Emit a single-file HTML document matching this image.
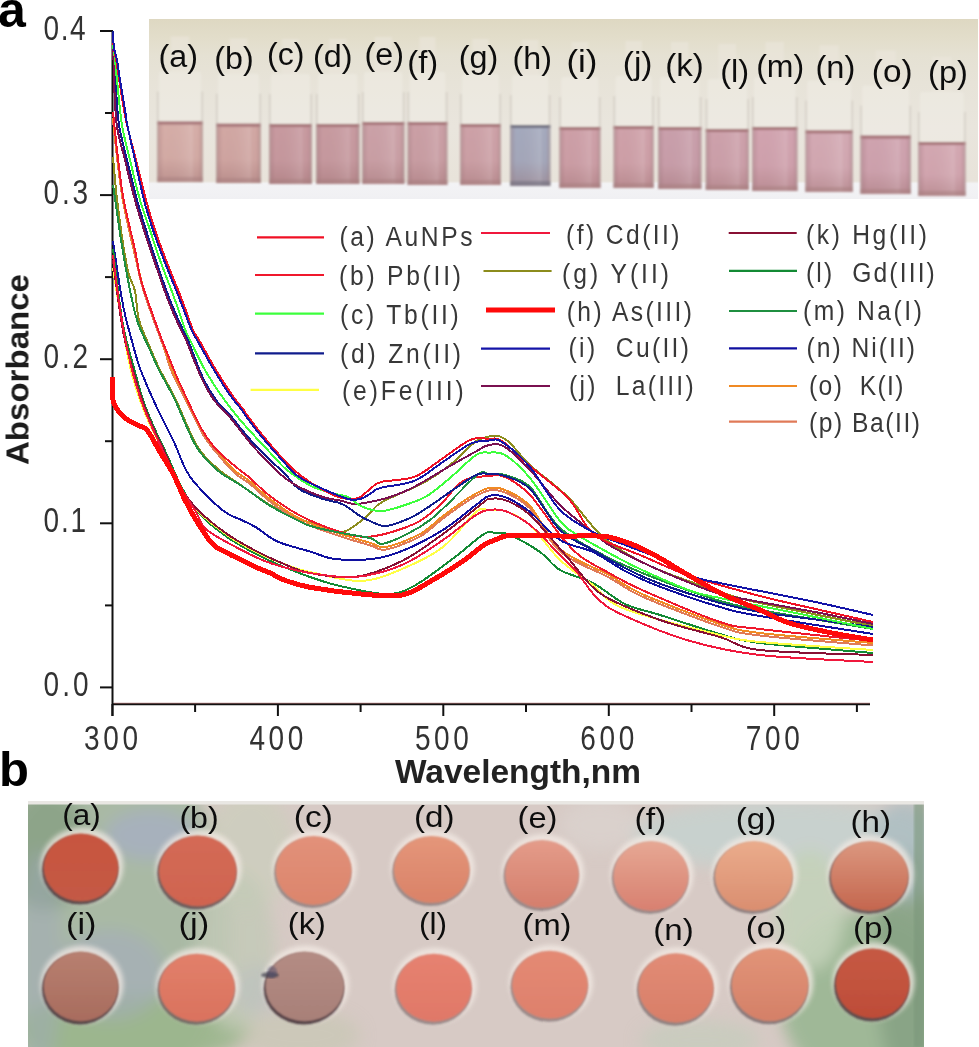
<!DOCTYPE html>
<html><head><meta charset="utf-8"><title>Figure</title>
<style>html,body{margin:0;padding:0;background:#fff;}body{width:979px;height:1047px;overflow:hidden;font-family:"Liberation Sans",sans-serif;}svg{display:block;}</style>
</head><body>
<svg width="979" height="1047" viewBox="0 0 979 1047">
<defs>
<filter id="blur1" x="-5%" y="-5%" width="110%" height="110%"><feGaussianBlur stdDeviation="1.2"/></filter>
<filter id="blur2" x="-20%" y="-20%" width="140%" height="140%"><feGaussianBlur stdDeviation="2.5"/></filter>
<filter id="blur6" x="-20%" y="-20%" width="140%" height="140%"><feGaussianBlur stdDeviation="8"/></filter>
<filter id="tb" x="-5%" y="-5%" width="110%" height="110%"><feGaussianBlur stdDeviation="0.45"/></filter>
<clipPath id="cpIn"><rect x="149" y="19" width="829" height="180"/></clipPath>
<clipPath id="cpB"><rect x="28" y="801" width="896" height="246"/></clipPath>
<linearGradient id="inBg" x1="0" y1="0" x2="0" y2="1">
 <stop offset="0" stop-color="#ded8c2"/><stop offset="0.1" stop-color="#e2ddca"/><stop offset="0.2" stop-color="#e5e1d3"/>
 <stop offset="0.35" stop-color="#e7e3d8"/><stop offset="0.6" stop-color="#e9e5dd"/>
 <stop offset="0.9" stop-color="#e8e3da"/><stop offset="0.915" stop-color="#f3f3f5"/><stop offset="1" stop-color="#f0f0f3"/>
</linearGradient>
<linearGradient id="liqShade" x1="0" y1="0" x2="0" y2="1">
 <stop offset="0" stop-color="#906060" stop-opacity="0"/><stop offset="0.6" stop-color="#906060" stop-opacity="0.05"/><stop offset="1" stop-color="#906060" stop-opacity="0.35"/>
</linearGradient>
<linearGradient id="liqSide" x1="0" y1="0" x2="1" y2="0">
 <stop offset="0" stop-color="#8a6068" stop-opacity="0.3"/><stop offset="0.15" stop-color="#8a6068" stop-opacity="0"/><stop offset="0.75" stop-color="#fff" stop-opacity="0.12"/><stop offset="0.88" stop-color="#8a6068" stop-opacity="0"/><stop offset="1" stop-color="#8a6068" stop-opacity="0.3"/>
</linearGradient>
<linearGradient id="liq" x1="0" y1="0" x2="0" y2="1">
 <stop offset="0" stop-color="#c9a1a8"/><stop offset="0.6" stop-color="#d2abb2"/><stop offset="1" stop-color="#bd959c"/>
</linearGradient>
<linearGradient id="liqH" x1="0" y1="0" x2="0" y2="1">
 <stop offset="0" stop-color="#a3a7b8"/><stop offset="0.6" stop-color="#aeb0c0"/><stop offset="1" stop-color="#8a8a9a"/>
</linearGradient>
</defs>
<rect width="979" height="1047" fill="#fff"/>
<g clip-path="url(#cpIn)">
<rect x="149" y="19" width="829" height="180" fill="url(#inBg)"/>
<g filter="url(#blur1)">
<rect x="159.0" y="71.5" width="42.0" height="50.0" rx="3" fill="#f2efe8" opacity="0.4"/>
<rect x="170.8" y="36.5" width="18.4" height="35.0" fill="#ebe6dc" opacity="0.6"/>
<rect x="157.0" y="121.5" width="46.0" height="60.5" fill="#d6aea8"/>
<rect x="157.0" y="121.5" width="46.0" height="60.5" fill="url(#liqShade)"/>
<rect x="157.0" y="121.5" width="46.0" height="60.5" fill="url(#liqSide)"/>
<rect x="157.0" y="121.5" width="46.0" height="3" fill="#a67478"/>
<rect x="157.0" y="91.5" width="1.6" height="90.5" fill="#bdb6ac" opacity="0.45"/>
<rect x="201.4" y="91.5" width="1.6" height="90.5" fill="#bdb6ac" opacity="0.45"/>
<rect x="157.0" y="177.0" width="46.0" height="5" fill="#a88080" opacity="0.5"/>
<rect x="218.0" y="73.7" width="41.0" height="50.0" rx="3" fill="#f2efe8" opacity="0.4"/>
<rect x="229.5" y="38.7" width="18.0" height="35.0" fill="#ebe6dc" opacity="0.6"/>
<rect x="216.0" y="123.7" width="45.0" height="59.3" fill="#d2a8a4"/>
<rect x="216.0" y="123.7" width="45.0" height="59.3" fill="url(#liqShade)"/>
<rect x="216.0" y="123.7" width="45.0" height="59.3" fill="url(#liqSide)"/>
<rect x="216.0" y="123.7" width="45.0" height="3" fill="#a67478"/>
<rect x="216.0" y="93.7" width="1.6" height="89.3" fill="#bdb6ac" opacity="0.45"/>
<rect x="259.4" y="93.7" width="1.6" height="89.3" fill="#bdb6ac" opacity="0.45"/>
<rect x="216.0" y="178.0" width="45.0" height="5" fill="#a88080" opacity="0.5"/>
<rect x="271.0" y="74.0" width="39.0" height="50.0" rx="3" fill="#f2efe8" opacity="0.4"/>
<rect x="281.9" y="39.0" width="17.2" height="35.0" fill="#ebe6dc" opacity="0.6"/>
<rect x="269.0" y="124.0" width="43.0" height="60.0" fill="#c89aa0"/>
<rect x="269.0" y="124.0" width="43.0" height="60.0" fill="url(#liqShade)"/>
<rect x="269.0" y="124.0" width="43.0" height="60.0" fill="url(#liqSide)"/>
<rect x="269.0" y="124.0" width="43.0" height="3" fill="#a67478"/>
<rect x="269.0" y="94.0" width="1.6" height="90.0" fill="#bdb6ac" opacity="0.45"/>
<rect x="310.4" y="94.0" width="1.6" height="90.0" fill="#bdb6ac" opacity="0.45"/>
<rect x="269.0" y="179.0" width="43.0" height="5" fill="#a88080" opacity="0.5"/>
<rect x="318.0" y="74.0" width="39.5" height="50.0" rx="3" fill="#f2efe8" opacity="0.4"/>
<rect x="329.1" y="39.0" width="17.4" height="35.0" fill="#ebe6dc" opacity="0.6"/>
<rect x="316.0" y="124.0" width="43.5" height="60.0" fill="#c89ba1"/>
<rect x="316.0" y="124.0" width="43.5" height="60.0" fill="url(#liqShade)"/>
<rect x="316.0" y="124.0" width="43.5" height="60.0" fill="url(#liqSide)"/>
<rect x="316.0" y="124.0" width="43.5" height="3" fill="#a67478"/>
<rect x="316.0" y="94.0" width="1.6" height="90.0" fill="#bdb6ac" opacity="0.45"/>
<rect x="357.9" y="94.0" width="1.6" height="90.0" fill="#bdb6ac" opacity="0.45"/>
<rect x="316.0" y="179.0" width="43.5" height="5" fill="#a88080" opacity="0.5"/>
<rect x="364.0" y="72.0" width="38.5" height="50.0" rx="3" fill="#f2efe8" opacity="0.4"/>
<rect x="374.8" y="37.0" width="17.0" height="35.0" fill="#ebe6dc" opacity="0.6"/>
<rect x="362.0" y="122.0" width="42.5" height="62.0" fill="#cca2a8"/>
<rect x="362.0" y="122.0" width="42.5" height="62.0" fill="url(#liqShade)"/>
<rect x="362.0" y="122.0" width="42.5" height="62.0" fill="url(#liqSide)"/>
<rect x="362.0" y="122.0" width="42.5" height="3" fill="#a67478"/>
<rect x="362.0" y="92.0" width="1.6" height="92.0" fill="#bdb6ac" opacity="0.45"/>
<rect x="402.9" y="92.0" width="1.6" height="92.0" fill="#bdb6ac" opacity="0.45"/>
<rect x="362.0" y="179.0" width="42.5" height="5" fill="#a88080" opacity="0.5"/>
<rect x="409.5" y="72.0" width="35.9" height="50.0" rx="3" fill="#f2efe8" opacity="0.4"/>
<rect x="419.5" y="37.0" width="16.0" height="35.0" fill="#ebe6dc" opacity="0.6"/>
<rect x="407.5" y="122.0" width="39.9" height="63.0" fill="#cba0a6"/>
<rect x="407.5" y="122.0" width="39.9" height="63.0" fill="url(#liqShade)"/>
<rect x="407.5" y="122.0" width="39.9" height="63.0" fill="url(#liqSide)"/>
<rect x="407.5" y="122.0" width="39.9" height="3" fill="#a67478"/>
<rect x="407.5" y="92.0" width="1.6" height="93.0" fill="#bdb6ac" opacity="0.45"/>
<rect x="445.8" y="92.0" width="1.6" height="93.0" fill="#bdb6ac" opacity="0.45"/>
<rect x="407.5" y="180.0" width="39.9" height="5" fill="#a88080" opacity="0.5"/>
<rect x="462.0" y="74.0" width="37.0" height="50.0" rx="3" fill="#f2efe8" opacity="0.4"/>
<rect x="472.3" y="39.0" width="16.4" height="35.0" fill="#ebe6dc" opacity="0.6"/>
<rect x="460.0" y="124.0" width="41.0" height="61.0" fill="#cea2a8"/>
<rect x="460.0" y="124.0" width="41.0" height="61.0" fill="url(#liqShade)"/>
<rect x="460.0" y="124.0" width="41.0" height="61.0" fill="url(#liqSide)"/>
<rect x="460.0" y="124.0" width="41.0" height="3" fill="#a67478"/>
<rect x="460.0" y="94.0" width="1.6" height="91.0" fill="#bdb6ac" opacity="0.45"/>
<rect x="499.4" y="94.0" width="1.6" height="91.0" fill="#bdb6ac" opacity="0.45"/>
<rect x="460.0" y="180.0" width="41.0" height="5" fill="#a88080" opacity="0.5"/>
<rect x="512.0" y="75.0" width="36.4" height="50.0" rx="3" fill="#f2efe8" opacity="0.4"/>
<rect x="522.1" y="40.0" width="16.2" height="35.0" fill="#ebe6dc" opacity="0.6"/>
<rect x="510.0" y="125.0" width="40.4" height="61.0" fill="#a4aabe"/>
<rect x="510.0" y="125.0" width="40.4" height="61.0" fill="url(#liqShade)"/>
<rect x="510.0" y="125.0" width="40.4" height="61.0" fill="url(#liqSide)"/>
<rect x="510.0" y="125.0" width="40.4" height="3" fill="#6f6f80"/>
<rect x="510.0" y="95.0" width="1.6" height="91.0" fill="#bdb6ac" opacity="0.45"/>
<rect x="548.8" y="95.0" width="1.6" height="91.0" fill="#bdb6ac" opacity="0.45"/>
<rect x="510.0" y="181.0" width="40.4" height="5" fill="#6a6a78" opacity="0.5"/>
<rect x="561.3" y="77.0" width="37.2" height="50.0" rx="3" fill="#f2efe8" opacity="0.4"/>
<rect x="571.7" y="42.0" width="16.5" height="35.0" fill="#ebe6dc" opacity="0.6"/>
<rect x="559.3" y="127.0" width="41.2" height="61.0" fill="#cea0a8"/>
<rect x="559.3" y="127.0" width="41.2" height="61.0" fill="url(#liqShade)"/>
<rect x="559.3" y="127.0" width="41.2" height="61.0" fill="url(#liqSide)"/>
<rect x="559.3" y="127.0" width="41.2" height="3" fill="#a67478"/>
<rect x="559.3" y="97.0" width="1.6" height="91.0" fill="#bdb6ac" opacity="0.45"/>
<rect x="598.9" y="97.0" width="1.6" height="91.0" fill="#bdb6ac" opacity="0.45"/>
<rect x="559.3" y="183.0" width="41.2" height="5" fill="#a88080" opacity="0.5"/>
<rect x="615.5" y="76.0" width="36.2" height="50.0" rx="3" fill="#f2efe8" opacity="0.4"/>
<rect x="625.6" y="41.0" width="16.1" height="35.0" fill="#ebe6dc" opacity="0.6"/>
<rect x="613.5" y="126.0" width="40.2" height="62.0" fill="#d0a2aa"/>
<rect x="613.5" y="126.0" width="40.2" height="62.0" fill="url(#liqShade)"/>
<rect x="613.5" y="126.0" width="40.2" height="62.0" fill="url(#liqSide)"/>
<rect x="613.5" y="126.0" width="40.2" height="3" fill="#a67478"/>
<rect x="613.5" y="96.0" width="1.6" height="92.0" fill="#bdb6ac" opacity="0.45"/>
<rect x="652.1" y="96.0" width="1.6" height="92.0" fill="#bdb6ac" opacity="0.45"/>
<rect x="613.5" y="183.0" width="40.2" height="5" fill="#a88080" opacity="0.5"/>
<rect x="660.0" y="77.0" width="39.4" height="50.0" rx="3" fill="#f2efe8" opacity="0.4"/>
<rect x="671.0" y="42.0" width="17.4" height="35.0" fill="#ebe6dc" opacity="0.6"/>
<rect x="658.0" y="127.0" width="43.4" height="62.0" fill="#caa0ac"/>
<rect x="658.0" y="127.0" width="43.4" height="62.0" fill="url(#liqShade)"/>
<rect x="658.0" y="127.0" width="43.4" height="62.0" fill="url(#liqSide)"/>
<rect x="658.0" y="127.0" width="43.4" height="3" fill="#a67478"/>
<rect x="658.0" y="97.0" width="1.6" height="92.0" fill="#bdb6ac" opacity="0.45"/>
<rect x="699.8" y="97.0" width="1.6" height="92.0" fill="#bdb6ac" opacity="0.45"/>
<rect x="658.0" y="184.0" width="43.4" height="5" fill="#a88080" opacity="0.5"/>
<rect x="707.7" y="79.0" width="39.3" height="50.0" rx="3" fill="#f2efe8" opacity="0.4"/>
<rect x="718.7" y="44.0" width="17.3" height="35.0" fill="#ebe6dc" opacity="0.6"/>
<rect x="705.7" y="129.0" width="43.3" height="61.0" fill="#cea2ac"/>
<rect x="705.7" y="129.0" width="43.3" height="61.0" fill="url(#liqShade)"/>
<rect x="705.7" y="129.0" width="43.3" height="61.0" fill="url(#liqSide)"/>
<rect x="705.7" y="129.0" width="43.3" height="3" fill="#a67478"/>
<rect x="705.7" y="99.0" width="1.6" height="91.0" fill="#bdb6ac" opacity="0.45"/>
<rect x="747.4" y="99.0" width="1.6" height="91.0" fill="#bdb6ac" opacity="0.45"/>
<rect x="705.7" y="185.0" width="43.3" height="5" fill="#a88080" opacity="0.5"/>
<rect x="754.0" y="77.0" width="41.5" height="50.0" rx="3" fill="#f2efe8" opacity="0.4"/>
<rect x="765.6" y="42.0" width="18.2" height="35.0" fill="#ebe6dc" opacity="0.6"/>
<rect x="752.0" y="127.0" width="45.5" height="64.0" fill="#d2a4b0"/>
<rect x="752.0" y="127.0" width="45.5" height="64.0" fill="url(#liqShade)"/>
<rect x="752.0" y="127.0" width="45.5" height="64.0" fill="url(#liqSide)"/>
<rect x="752.0" y="127.0" width="45.5" height="3" fill="#a67478"/>
<rect x="752.0" y="97.0" width="1.6" height="94.0" fill="#bdb6ac" opacity="0.45"/>
<rect x="795.9" y="97.0" width="1.6" height="94.0" fill="#bdb6ac" opacity="0.45"/>
<rect x="752.0" y="186.0" width="45.5" height="5" fill="#a88080" opacity="0.5"/>
<rect x="807.3" y="80.4" width="43.7" height="50.0" rx="3" fill="#f2efe8" opacity="0.4"/>
<rect x="819.6" y="45.4" width="19.1" height="35.0" fill="#ebe6dc" opacity="0.6"/>
<rect x="805.3" y="130.4" width="47.7" height="61.6" fill="#d4aab4"/>
<rect x="805.3" y="130.4" width="47.7" height="61.6" fill="url(#liqShade)"/>
<rect x="805.3" y="130.4" width="47.7" height="61.6" fill="url(#liqSide)"/>
<rect x="805.3" y="130.4" width="47.7" height="3" fill="#a67478"/>
<rect x="805.3" y="100.4" width="1.6" height="91.6" fill="#bdb6ac" opacity="0.45"/>
<rect x="851.4" y="100.4" width="1.6" height="91.6" fill="#bdb6ac" opacity="0.45"/>
<rect x="805.3" y="187.0" width="47.7" height="5" fill="#a88080" opacity="0.5"/>
<rect x="862.3" y="85.6" width="46.7" height="50.0" rx="3" fill="#f2efe8" opacity="0.4"/>
<rect x="875.5" y="50.6" width="20.3" height="35.0" fill="#ebe6dc" opacity="0.6"/>
<rect x="860.3" y="135.6" width="50.7" height="58.4" fill="#d0a4b0"/>
<rect x="860.3" y="135.6" width="50.7" height="58.4" fill="url(#liqShade)"/>
<rect x="860.3" y="135.6" width="50.7" height="58.4" fill="url(#liqSide)"/>
<rect x="860.3" y="135.6" width="50.7" height="3" fill="#a67478"/>
<rect x="860.3" y="105.6" width="1.6" height="88.4" fill="#bdb6ac" opacity="0.45"/>
<rect x="909.4" y="105.6" width="1.6" height="88.4" fill="#bdb6ac" opacity="0.45"/>
<rect x="860.3" y="189.0" width="50.7" height="5" fill="#a88080" opacity="0.5"/>
<rect x="920.0" y="92.0" width="43.6" height="50.0" rx="3" fill="#f2efe8" opacity="0.4"/>
<rect x="932.3" y="57.0" width="19.0" height="35.0" fill="#ebe6dc" opacity="0.6"/>
<rect x="918.0" y="142.0" width="47.6" height="54.0" fill="#d4a8b2"/>
<rect x="918.0" y="142.0" width="47.6" height="54.0" fill="url(#liqShade)"/>
<rect x="918.0" y="142.0" width="47.6" height="54.0" fill="url(#liqSide)"/>
<rect x="918.0" y="142.0" width="47.6" height="3" fill="#a67478"/>
<rect x="918.0" y="112.0" width="1.6" height="84.0" fill="#bdb6ac" opacity="0.45"/>
<rect x="964.0" y="112.0" width="1.6" height="84.0" fill="#bdb6ac" opacity="0.45"/>
<rect x="918.0" y="191.0" width="47.6" height="5" fill="#a88080" opacity="0.5"/>
</g>
<text x="158.5" y="66.8" textLength="39.5" lengthAdjust="spacingAndGlyphs" font-family="Liberation Sans" font-size="31" fill="#111" filter="url(#tb)">(a)</text>
<text x="214.3" y="69.0" textLength="39.4" lengthAdjust="spacingAndGlyphs" font-family="Liberation Sans" font-size="31" fill="#111" filter="url(#tb)">(b)</text>
<text x="267.0" y="64.7" textLength="37.4" lengthAdjust="spacingAndGlyphs" font-family="Liberation Sans" font-size="31" fill="#111" filter="url(#tb)">(c)</text>
<text x="313.0" y="66.5" textLength="39.5" lengthAdjust="spacingAndGlyphs" font-family="Liberation Sans" font-size="31" fill="#111" filter="url(#tb)">(d)</text>
<text x="364.5" y="64.5" textLength="39.4" lengthAdjust="spacingAndGlyphs" font-family="Liberation Sans" font-size="31" fill="#111" filter="url(#tb)">(e)</text>
<text x="407.3" y="73.3" textLength="30.9" lengthAdjust="spacingAndGlyphs" font-family="Liberation Sans" font-size="31" fill="#111" filter="url(#tb)">(f)</text>
<text x="458.8" y="68.1" textLength="39.5" lengthAdjust="spacingAndGlyphs" font-family="Liberation Sans" font-size="31" fill="#111" filter="url(#tb)">(g)</text>
<text x="512.5" y="68.5" textLength="39.4" lengthAdjust="spacingAndGlyphs" font-family="Liberation Sans" font-size="31" fill="#111" filter="url(#tb)">(h)</text>
<text x="566.5" y="71.5" textLength="31.0" lengthAdjust="spacingAndGlyphs" font-family="Liberation Sans" font-size="31" fill="#111" filter="url(#tb)">(i)</text>
<text x="622.8" y="73.8" textLength="29.7" lengthAdjust="spacingAndGlyphs" font-family="Liberation Sans" font-size="31" fill="#111" filter="url(#tb)">(j)</text>
<text x="665.2" y="76.0" textLength="38.5" lengthAdjust="spacingAndGlyphs" font-family="Liberation Sans" font-size="31" fill="#111" filter="url(#tb)">(k)</text>
<text x="720.2" y="81.5" textLength="29.0" lengthAdjust="spacingAndGlyphs" font-family="Liberation Sans" font-size="31" fill="#111" filter="url(#tb)">(l)</text>
<text x="756.2" y="77.3" textLength="48.0" lengthAdjust="spacingAndGlyphs" font-family="Liberation Sans" font-size="31" fill="#111" filter="url(#tb)">(m)</text>
<text x="815.5" y="78.1" textLength="39.8" lengthAdjust="spacingAndGlyphs" font-family="Liberation Sans" font-size="31" fill="#111" filter="url(#tb)">(n)</text>
<text x="871.8" y="81.5" textLength="40.7" lengthAdjust="spacingAndGlyphs" font-family="Liberation Sans" font-size="31" fill="#111" filter="url(#tb)">(o)</text>
<text x="928.1" y="82.5" textLength="39.8" lengthAdjust="spacingAndGlyphs" font-family="Liberation Sans" font-size="31" fill="#111" filter="url(#tb)">(p)</text>
</g>
<g clip-path="url(#cpB)">
<rect x="28" y="801" width="896" height="246" fill="#d7cac5"/>
<g filter="url(#blur6)">
<ellipse cx="110" cy="930" rx="120" ry="190" fill="#a9b9a4" opacity="1"/>
<ellipse cx="45" cy="850" rx="45" ry="60" fill="#8aa286" opacity="0.9"/>
<ellipse cx="130" cy="1030" rx="120" ry="35" fill="#9ab68c" opacity="0.9"/>
<ellipse cx="300" cy="1035" rx="60" ry="25" fill="#c4c6b0" opacity="0.6"/>
<ellipse cx="250" cy="850" rx="45" ry="60" fill="#cdcdbe" opacity="0.9"/>
<ellipse cx="235" cy="950" rx="40" ry="80" fill="#c2c9b6" opacity="0.8"/>
<ellipse cx="40" cy="960" rx="22" ry="110" fill="#a0a8bc" opacity="0.45"/>
<ellipse cx="150" cy="835" rx="45" ry="25" fill="#a6aec6" opacity="0.7"/>
<ellipse cx="110" cy="975" rx="55" ry="45" fill="#a3aac2" opacity="0.5"/>
<ellipse cx="260" cy="990" rx="30" ry="25" fill="#b4bcc4" opacity="0.4"/>
<ellipse cx="870" cy="1000" rx="90" ry="90" fill="#9fb897" opacity="1"/>
<ellipse cx="905" cy="960" rx="30" ry="120" fill="#86a284" opacity="0.9"/>
<ellipse cx="700" cy="1040" rx="60" ry="20" fill="#c4ccbc" opacity="0.7"/>
<ellipse cx="780" cy="835" rx="150" ry="35" fill="#c6d2ce" opacity="0.9"/>
<ellipse cx="905" cy="850" rx="35" ry="50" fill="#aabcc0" opacity="0.8"/>
<ellipse cx="810" cy="910" rx="35" ry="60" fill="#c3d2b9" opacity="0.9"/>
<ellipse cx="600" cy="825" rx="40" ry="25" fill="#dcd6d0" opacity="0.6"/>
</g>
<rect x="914" y="803" width="10" height="244" fill="#7a967a" opacity="0.6" filter="url(#blur1)"/>
<rect x="28" y="801" width="896" height="3.5" fill="#e9e7e3"/>
<linearGradient id="sp0" x1="0" y1="0" x2="0" y2="1"><stop offset="0" stop-color="#c8553f"/><stop offset="1" stop-color="#c45a45"/></linearGradient>
<ellipse cx="82.0" cy="865.6" rx="41.5" ry="38.0" fill="#f4ece6" opacity="0.75" filter="url(#blur2)"/>
<ellipse cx="80.0" cy="870.1" rx="38.0" ry="34.5" fill="#3c2c30" opacity="0.80" filter="url(#blur1)"/>
<ellipse cx="81.0" cy="867.6" rx="37.5" ry="34.0" fill="url(#sp0)" filter="url(#blur1)"/>
<linearGradient id="sp1" x1="0" y1="0" x2="0" y2="1"><stop offset="0" stop-color="#d46a55"/><stop offset="1" stop-color="#cf6450"/></linearGradient>
<ellipse cx="198.7" cy="869.0" rx="43.0" ry="39.5" fill="#f4ece6" opacity="0.75" filter="url(#blur2)"/>
<ellipse cx="196.7" cy="873.5" rx="39.5" ry="36.0" fill="#3c2c30" opacity="0.70" filter="url(#blur1)"/>
<ellipse cx="197.7" cy="871.0" rx="39.0" ry="35.5" fill="url(#sp1)" filter="url(#blur1)"/>
<linearGradient id="sp2" x1="0" y1="0" x2="0" y2="1"><stop offset="0" stop-color="#e2917a"/><stop offset="1" stop-color="#dc856c"/></linearGradient>
<ellipse cx="314.6" cy="868.5" rx="42.0" ry="38.5" fill="#f4ece6" opacity="0.75" filter="url(#blur2)"/>
<ellipse cx="312.6" cy="873.0" rx="38.5" ry="35.0" fill="#3c2c30" opacity="0.45" filter="url(#blur1)"/>
<ellipse cx="313.6" cy="870.5" rx="38.0" ry="34.5" fill="url(#sp2)" filter="url(#blur1)"/>
<linearGradient id="sp3" x1="0" y1="0" x2="0" y2="1"><stop offset="0" stop-color="#e4967a"/><stop offset="1" stop-color="#da8268"/></linearGradient>
<ellipse cx="432.7" cy="867.5" rx="42.0" ry="37.5" fill="#f4ece6" opacity="0.75" filter="url(#blur2)"/>
<ellipse cx="430.7" cy="872.0" rx="38.5" ry="34.0" fill="#3c2c30" opacity="0.45" filter="url(#blur1)"/>
<ellipse cx="431.7" cy="869.5" rx="38.0" ry="33.5" fill="url(#sp3)" filter="url(#blur1)"/>
<linearGradient id="sp4" x1="0" y1="0" x2="0" y2="1"><stop offset="0" stop-color="#e49c8a"/><stop offset="1" stop-color="#d47e6c"/></linearGradient>
<ellipse cx="543.0" cy="872.0" rx="41.0" ry="38.0" fill="#f4ece6" opacity="0.75" filter="url(#blur2)"/>
<ellipse cx="541.0" cy="876.5" rx="37.5" ry="34.5" fill="#3c2c30" opacity="0.45" filter="url(#blur1)"/>
<ellipse cx="542.0" cy="874.0" rx="37.0" ry="34.0" fill="url(#sp4)" filter="url(#blur1)"/>
<linearGradient id="sp5" x1="0" y1="0" x2="0" y2="1"><stop offset="0" stop-color="#e6a894"/><stop offset="1" stop-color="#d88070"/></linearGradient>
<ellipse cx="652.0" cy="874.0" rx="41.7" ry="39.0" fill="#f4ece6" opacity="0.75" filter="url(#blur2)"/>
<ellipse cx="650.0" cy="878.5" rx="38.2" ry="35.5" fill="#3c2c30" opacity="0.45" filter="url(#blur1)"/>
<ellipse cx="651.0" cy="876.0" rx="37.7" ry="35.0" fill="url(#sp5)" filter="url(#blur1)"/>
<linearGradient id="sp6" x1="0" y1="0" x2="0" y2="1"><stop offset="0" stop-color="#eaac8c"/><stop offset="1" stop-color="#da8e70"/></linearGradient>
<ellipse cx="754.8" cy="874.0" rx="43.0" ry="39.0" fill="#f4ece6" opacity="0.75" filter="url(#blur2)"/>
<ellipse cx="752.8" cy="878.5" rx="39.5" ry="35.5" fill="#3c2c30" opacity="0.50" filter="url(#blur1)"/>
<ellipse cx="753.8" cy="876.0" rx="39.0" ry="35.0" fill="url(#sp6)" filter="url(#blur1)"/>
<linearGradient id="sp7" x1="0" y1="0" x2="0" y2="1"><stop offset="0" stop-color="#dc9880"/><stop offset="1" stop-color="#c4664e"/></linearGradient>
<ellipse cx="870.6" cy="874.0" rx="43.0" ry="39.0" fill="#f4ece6" opacity="0.75" filter="url(#blur2)"/>
<ellipse cx="868.6" cy="878.5" rx="39.5" ry="35.5" fill="#3c2c30" opacity="0.70" filter="url(#blur1)"/>
<ellipse cx="869.6" cy="876.0" rx="39.0" ry="35.0" fill="url(#sp7)" filter="url(#blur1)"/>
<linearGradient id="sp8" x1="0" y1="0" x2="0" y2="1"><stop offset="0" stop-color="#b88070"/><stop offset="1" stop-color="#a86c5e"/></linearGradient>
<ellipse cx="82.0" cy="984.5" rx="41.5" ry="39.0" fill="#f4ece6" opacity="0.75" filter="url(#blur2)"/>
<ellipse cx="80.0" cy="989.0" rx="38.0" ry="35.5" fill="#3c2c30" opacity="0.85" filter="url(#blur1)"/>
<ellipse cx="81.0" cy="986.5" rx="37.5" ry="35.0" fill="url(#sp8)" filter="url(#blur1)"/>
<linearGradient id="sp9" x1="0" y1="0" x2="0" y2="1"><stop offset="0" stop-color="#e2806a"/><stop offset="1" stop-color="#da725e"/></linearGradient>
<ellipse cx="198.0" cy="985.7" rx="42.0" ry="38.0" fill="#f4ece6" opacity="0.75" filter="url(#blur2)"/>
<ellipse cx="196.0" cy="990.2" rx="38.5" ry="34.5" fill="#3c2c30" opacity="0.60" filter="url(#blur1)"/>
<ellipse cx="197.0" cy="987.7" rx="38.0" ry="34.0" fill="url(#sp9)" filter="url(#blur1)"/>
<linearGradient id="sp10" x1="0" y1="0" x2="0" y2="1"><stop offset="0" stop-color="#b48c84"/><stop offset="1" stop-color="#a88078"/></linearGradient>
<ellipse cx="305.8" cy="984.5" rx="43.5" ry="39.0" fill="#f4ece6" opacity="0.75" filter="url(#blur2)"/>
<ellipse cx="303.8" cy="989.0" rx="40.0" ry="35.5" fill="#3c2c30" opacity="0.90" filter="url(#blur1)"/>
<ellipse cx="304.8" cy="986.5" rx="39.5" ry="35.0" fill="url(#sp10)" filter="url(#blur1)"/>
<linearGradient id="sp11" x1="0" y1="0" x2="0" y2="1"><stop offset="0" stop-color="#e68270"/><stop offset="1" stop-color="#e07868"/></linearGradient>
<ellipse cx="435.0" cy="985.7" rx="41.8" ry="38.0" fill="#f4ece6" opacity="0.75" filter="url(#blur2)"/>
<ellipse cx="433.0" cy="990.2" rx="38.3" ry="34.5" fill="#3c2c30" opacity="0.45" filter="url(#blur1)"/>
<ellipse cx="434.0" cy="987.7" rx="37.8" ry="34.0" fill="url(#sp11)" filter="url(#blur1)"/>
<linearGradient id="sp12" x1="0" y1="0" x2="0" y2="1"><stop offset="0" stop-color="#e48a74"/><stop offset="1" stop-color="#de806c"/></linearGradient>
<ellipse cx="551.0" cy="982.8" rx="42.0" ry="38.0" fill="#f4ece6" opacity="0.75" filter="url(#blur2)"/>
<ellipse cx="549.0" cy="987.3" rx="38.5" ry="34.5" fill="#3c2c30" opacity="0.45" filter="url(#blur1)"/>
<ellipse cx="550.0" cy="984.8" rx="38.0" ry="34.0" fill="url(#sp12)" filter="url(#blur1)"/>
<linearGradient id="sp13" x1="0" y1="0" x2="0" y2="1"><stop offset="0" stop-color="#e28c76"/><stop offset="1" stop-color="#d87e68"/></linearGradient>
<ellipse cx="677.0" cy="986.0" rx="41.7" ry="38.7" fill="#f4ece6" opacity="0.75" filter="url(#blur2)"/>
<ellipse cx="675.0" cy="990.5" rx="38.2" ry="35.2" fill="#3c2c30" opacity="0.50" filter="url(#blur1)"/>
<ellipse cx="676.0" cy="988.0" rx="37.7" ry="34.7" fill="url(#sp13)" filter="url(#blur1)"/>
<linearGradient id="sp14" x1="0" y1="0" x2="0" y2="1"><stop offset="0" stop-color="#e29478"/><stop offset="1" stop-color="#d48068"/></linearGradient>
<ellipse cx="771.0" cy="982.8" rx="42.5" ry="40.5" fill="#f4ece6" opacity="0.75" filter="url(#blur2)"/>
<ellipse cx="769.0" cy="987.3" rx="39.0" ry="37.0" fill="#3c2c30" opacity="0.55" filter="url(#blur1)"/>
<ellipse cx="770.0" cy="984.8" rx="38.5" ry="36.5" fill="url(#sp14)" filter="url(#blur1)"/>
<linearGradient id="sp15" x1="0" y1="0" x2="0" y2="1"><stop offset="0" stop-color="#c65a44"/><stop offset="1" stop-color="#be4c38"/></linearGradient>
<ellipse cx="873.6" cy="981.5" rx="41.0" ry="39.0" fill="#f4ece6" opacity="0.75" filter="url(#blur2)"/>
<ellipse cx="871.6" cy="986.0" rx="37.5" ry="35.5" fill="#3c2c30" opacity="0.80" filter="url(#blur1)"/>
<ellipse cx="872.6" cy="983.5" rx="37.0" ry="35.0" fill="url(#sp15)" filter="url(#blur1)"/>
<ellipse cx="270" cy="975" rx="9" ry="3" fill="#3a3a48" opacity="0.7" filter="url(#blur1)"/>
<ellipse cx="272" cy="972" rx="5" ry="6" fill="#505070" opacity="0.5" filter="url(#blur1)"/>
<text x="62.3" y="825.0" textLength="38.5" lengthAdjust="spacingAndGlyphs" font-family="Liberation Sans" font-size="29" fill="#111" filter="url(#tb)">(a)</text>
<text x="179.4" y="827.5" textLength="39.4" lengthAdjust="spacingAndGlyphs" font-family="Liberation Sans" font-size="29" fill="#111" filter="url(#tb)">(b)</text>
<text x="293.8" y="827.0" textLength="39.0" lengthAdjust="spacingAndGlyphs" font-family="Liberation Sans" font-size="29" fill="#111" filter="url(#tb)">(c)</text>
<text x="413.9" y="827.0" textLength="40.6" lengthAdjust="spacingAndGlyphs" font-family="Liberation Sans" font-size="29" fill="#111" filter="url(#tb)">(d)</text>
<text x="517.5" y="828.0" textLength="40.0" lengthAdjust="spacingAndGlyphs" font-family="Liberation Sans" font-size="29" fill="#111" filter="url(#tb)">(e)</text>
<text x="634.4" y="829.0" textLength="31.9" lengthAdjust="spacingAndGlyphs" font-family="Liberation Sans" font-size="29" fill="#111" filter="url(#tb)">(f)</text>
<text x="735.7" y="829.0" textLength="40.5" lengthAdjust="spacingAndGlyphs" font-family="Liberation Sans" font-size="29" fill="#111" filter="url(#tb)">(g)</text>
<text x="850.5" y="832.0" textLength="40.6" lengthAdjust="spacingAndGlyphs" font-family="Liberation Sans" font-size="29" fill="#111" filter="url(#tb)">(h)</text>
<text x="66.1" y="934.0" textLength="30.4" lengthAdjust="spacingAndGlyphs" font-family="Liberation Sans" font-size="29" fill="#111" filter="url(#tb)">(i)</text>
<text x="178.5" y="934.0" textLength="30.7" lengthAdjust="spacingAndGlyphs" font-family="Liberation Sans" font-size="29" fill="#111" filter="url(#tb)">(j)</text>
<text x="287.8" y="933.5" textLength="38.0" lengthAdjust="spacingAndGlyphs" font-family="Liberation Sans" font-size="29" fill="#111" filter="url(#tb)">(k)</text>
<text x="418.9" y="934.0" textLength="28.1" lengthAdjust="spacingAndGlyphs" font-family="Liberation Sans" font-size="29" fill="#111" filter="url(#tb)">(l)</text>
<text x="522.5" y="935.3" textLength="49.0" lengthAdjust="spacingAndGlyphs" font-family="Liberation Sans" font-size="29" fill="#111" filter="url(#tb)">(m)</text>
<text x="653.3" y="940.3" textLength="40.5" lengthAdjust="spacingAndGlyphs" font-family="Liberation Sans" font-size="29" fill="#111" filter="url(#tb)">(n)</text>
<text x="745.7" y="937.8" textLength="40.5" lengthAdjust="spacingAndGlyphs" font-family="Liberation Sans" font-size="29" fill="#111" filter="url(#tb)">(o)</text>
<text x="853.1" y="937.8" textLength="40.5" lengthAdjust="spacingAndGlyphs" font-family="Liberation Sans" font-size="29" fill="#111" filter="url(#tb)">(p)</text>
</g>
<g fill="none" stroke="#111" stroke-width="2">
<path d="M112.5,31 V716"/>
<path d="M112,704.3 H870"/>
<path d="M100,687.4 H113"/>
<path d="M100,523.3 H113"/>
<path d="M100,359.2 H113"/>
<path d="M100,195.1 H113"/>
<path d="M100,31.0 H113"/>
<path d="M105,605.4 H113"/>
<path d="M105,441.2 H113"/>
<path d="M105,277.1 H113"/>
<path d="M105,113.0 H113"/>
<path d="M112.4,704 V716"/>
<path d="M277.9,704 V716"/>
<path d="M443.3,704 V716"/>
<path d="M608.8,704 V716"/>
<path d="M774.2,704 V716"/>
<path d="M195.1,704 V712"/>
<path d="M360.6,704 V712"/>
<path d="M526.0,704 V712"/>
<path d="M691.5,704 V712"/>
<path d="M856.9,704 V712"/>
</g>
<path d="M114,703.2 H870" stroke="#8a3030" stroke-width="0.8" opacity="0.6"/>
<text transform="translate(43.6,696.0) scale(0.8,1)" textLength="56.2" lengthAdjust="spacing" font-size="35" font-family="Liberation Sans" fill="#333" filter="url(#tb)">0.0</text>
<text transform="translate(43.6,531.9) scale(0.8,1)" textLength="53.1" lengthAdjust="spacing" font-size="35" font-family="Liberation Sans" fill="#333" filter="url(#tb)">0.1</text>
<text transform="translate(43.6,367.8) scale(0.8,1)" textLength="55.6" lengthAdjust="spacing" font-size="35" font-family="Liberation Sans" fill="#333" filter="url(#tb)">0.2</text>
<text transform="translate(43.6,203.7) scale(0.8,1)" textLength="55.6" lengthAdjust="spacing" font-size="35" font-family="Liberation Sans" fill="#333" filter="url(#tb)">0.3</text>
<text transform="translate(43.6,39.6) scale(0.8,1)" textLength="52.5" lengthAdjust="spacing" font-size="35" font-family="Liberation Sans" fill="#333" filter="url(#tb)">0.4</text>
<text transform="translate(84.0,750) scale(0.8,1)" textLength="67.5" lengthAdjust="spacing" font-size="35" font-family="Liberation Sans" fill="#333" filter="url(#tb)">300</text>
<text transform="translate(249.4,750) scale(0.8,1)" textLength="67.5" lengthAdjust="spacing" font-size="35" font-family="Liberation Sans" fill="#333" filter="url(#tb)">400</text>
<text transform="translate(414.9,750) scale(0.8,1)" textLength="67.5" lengthAdjust="spacing" font-size="35" font-family="Liberation Sans" fill="#333" filter="url(#tb)">500</text>
<text transform="translate(580.3,750) scale(0.8,1)" textLength="67.5" lengthAdjust="spacing" font-size="35" font-family="Liberation Sans" fill="#333" filter="url(#tb)">600</text>
<text transform="translate(745.8,750) scale(0.8,1)" textLength="67.5" lengthAdjust="spacing" font-size="35" font-family="Liberation Sans" fill="#333" filter="url(#tb)">700</text>
<text x="395" y="783" textLength="246" lengthAdjust="spacingAndGlyphs" font-size="32.5" font-weight="bold" font-family="Liberation Sans" fill="#222" filter="url(#tb)">Wavelength,nm</text>
<text transform="translate(28.5,465) rotate(-90)" textLength="191" lengthAdjust="spacingAndGlyphs" font-size="32" font-weight="bold" font-family="Liberation Sans" fill="#1c1c1c" filter="url(#tb)">Absorbance</text>
<text x="-2" y="27" font-size="50" font-weight="bold" font-family="Liberation Sans" fill="#000">a</text>
<text x="-1" y="786" font-size="49" font-weight="bold" font-family="Liberation Sans" fill="#000">b</text>
<g fill="none" stroke-linejoin="round" stroke-linecap="butt" shape-rendering="crispEdges">
<path d="M113.0,157.0 C113.5,162.5 115.0,180.3 116.0,190.0 C117.0,199.7 117.7,205.0 119.0,215.0 C120.3,225.0 122.3,240.0 124.0,250.0 C125.7,260.0 127.2,268.2 129.0,275.0 C130.8,281.8 133.3,283.5 135.0,291.0 C136.7,298.5 136.3,310.2 139.0,320.0 C141.7,329.8 147.5,341.7 151.0,350.0 C154.5,358.3 155.8,361.7 160.0,370.0 C164.2,378.3 169.8,387.3 176.0,400.0 C182.2,412.7 190.0,434.5 197.0,446.0 C204.0,457.5 210.5,462.3 218.0,469.0 C225.5,475.7 233.3,480.0 242.0,486.0 C250.7,492.0 260.5,499.5 270.0,505.0 C279.5,510.5 290.7,515.7 299.0,519.0 C307.3,522.3 312.7,522.9 320.0,525.0 C327.3,527.1 335.8,532.6 343.0,531.7 C350.2,530.8 358.5,522.5 363.0,519.5 C367.5,516.5 366.8,516.3 370.0,513.4 C373.2,510.5 373.2,507.1 382.0,502.0 C390.8,496.9 411.7,489.2 423.0,483.0 C434.3,476.8 442.8,470.5 450.0,465.0 C457.2,459.5 461.3,454.2 466.0,450.0 C470.7,445.8 474.2,442.2 478.0,440.0 C481.8,437.8 485.3,437.1 489.0,436.5 C492.7,435.9 496.5,435.4 500.0,436.5 C503.5,437.6 504.8,438.1 510.0,443.0 C515.2,447.9 521.3,457.0 531.0,466.0 C540.7,475.0 555.8,485.0 568.0,497.0 C580.2,509.0 590.3,526.5 604.0,538.0 C617.7,549.5 630.7,557.0 650.0,566.0 C669.3,575.0 701.7,585.8 720.0,592.0 C738.3,598.2 734.5,597.3 760.0,603.0 C785.5,608.7 854.2,622.2 873.0,626.0" stroke="#8c8c1c" stroke-width="2"/>
<path d="M113.0,120.5 C113.7,126.7 115.5,145.0 117.0,157.5 C118.5,170.0 120.2,184.2 122.0,195.5 C123.8,206.8 125.8,215.5 128.0,225.5 C130.2,235.5 132.7,245.5 135.0,255.5 C137.3,265.5 139.2,275.5 142.0,285.5 C144.8,295.5 148.5,305.5 152.0,315.5 C155.5,325.5 159.7,336.0 163.0,345.5 C166.3,355.0 169.0,365.0 172.0,372.5 C175.0,380.0 175.8,380.2 181.0,390.5 C186.2,400.8 196.8,423.8 203.0,434.5 C209.2,445.2 212.8,448.2 218.0,454.5 C223.2,460.8 228.7,467.6 234.0,472.5 C239.3,477.4 244.0,479.2 250.0,484.0 C256.0,488.8 261.8,495.4 270.0,501.5 C278.2,507.6 288.0,515.2 299.0,520.8 C310.0,526.4 324.2,530.8 336.0,534.9 C347.8,539.0 361.7,542.9 370.0,545.3 C378.3,547.7 377.7,551.0 386.0,549.5 C394.3,548.0 410.5,541.7 420.0,536.5 C429.5,531.3 434.7,524.7 443.0,518.5 C451.3,512.3 462.3,504.2 470.0,499.5 C477.7,494.8 483.2,491.7 489.0,490.5 C494.8,489.3 498.2,489.5 505.0,492.5 C511.8,495.5 520.8,498.7 530.0,508.5 C539.2,518.3 546.8,540.0 560.0,551.5 C573.2,563.0 595.3,570.0 609.0,577.5 C622.7,585.0 623.5,588.3 642.0,596.5 C660.5,604.7 700.3,620.0 720.0,626.5 C739.7,633.0 734.5,632.3 760.0,635.5 C785.5,638.7 854.2,643.8 873.0,645.5" stroke="#e07a58" stroke-width="2"/>
<path d="M113.0,118.0 C113.7,124.2 115.5,142.5 117.0,155.0 C118.5,167.5 120.2,181.7 122.0,193.0 C123.8,204.3 125.8,213.0 128.0,223.0 C130.2,233.0 132.7,243.0 135.0,253.0 C137.3,263.0 139.2,273.0 142.0,283.0 C144.8,293.0 148.5,303.0 152.0,313.0 C155.5,323.0 159.7,333.5 163.0,343.0 C166.3,352.5 169.0,362.5 172.0,370.0 C175.0,377.5 175.8,377.7 181.0,388.0 C186.2,398.3 196.8,421.3 203.0,432.0 C209.2,442.7 212.8,445.7 218.0,452.0 C223.2,458.3 228.7,465.1 234.0,470.0 C239.3,474.9 244.0,476.7 250.0,481.5 C256.0,486.3 261.8,492.9 270.0,499.0 C278.2,505.1 288.0,512.7 299.0,518.3 C310.0,523.9 324.2,528.3 336.0,532.4 C347.8,536.5 361.7,540.4 370.0,542.8 C378.3,545.2 377.7,548.5 386.0,547.0 C394.3,545.5 410.5,539.2 420.0,534.0 C429.5,528.8 434.7,522.2 443.0,516.0 C451.3,509.8 462.3,501.7 470.0,497.0 C477.7,492.3 483.2,489.2 489.0,488.0 C494.8,486.8 498.2,487.0 505.0,490.0 C511.8,493.0 520.8,496.2 530.0,506.0 C539.2,515.8 546.8,537.5 560.0,549.0 C573.2,560.5 595.3,567.5 609.0,575.0 C622.7,582.5 623.5,585.8 642.0,594.0 C660.5,602.2 700.3,617.5 720.0,624.0 C739.7,630.5 734.5,629.8 760.0,633.0 C785.5,636.2 854.2,641.3 873.0,643.0" stroke="#f08a24" stroke-width="2"/>
<path d="M113.0,112.0 C113.7,118.3 115.5,137.0 117.0,150.0 C118.5,163.0 120.2,178.3 122.0,190.0 C123.8,201.7 125.8,210.0 128.0,220.0 C130.2,230.0 132.8,240.0 135.0,250.0 C137.2,260.0 138.3,270.0 141.0,280.0 C143.7,290.0 147.5,300.0 151.0,310.0 C154.5,320.0 158.2,330.0 162.0,340.0 C165.8,350.0 171.0,362.7 174.0,370.0 C177.0,377.3 175.5,374.3 180.0,384.0 C184.5,393.7 195.2,417.3 201.0,428.0 C206.8,438.7 210.2,442.3 215.0,448.0 C219.8,453.7 225.7,458.2 230.0,462.0 C234.3,465.8 237.7,468.3 241.0,471.0 C244.3,473.7 245.2,473.8 250.0,478.0 C254.8,482.2 261.8,489.8 270.0,496.0 C278.2,502.2 288.0,509.2 299.0,515.0 C310.0,520.8 324.2,526.9 336.0,530.5 C347.8,534.1 357.0,537.7 370.0,536.6 C383.0,535.5 402.3,529.3 414.0,524.0 C425.7,518.7 431.8,512.2 440.0,505.0 C448.2,497.8 454.8,485.8 463.0,481.0 C471.2,476.2 482.0,476.7 489.0,476.0 C496.0,475.3 498.2,473.8 505.0,477.0 C511.8,480.2 520.8,485.3 530.0,495.0 C539.2,504.7 551.7,524.8 560.0,535.0 C568.3,545.2 571.8,549.7 580.0,556.0 C588.2,562.3 598.7,567.3 609.0,573.0 C619.3,578.7 623.5,581.8 642.0,590.0 C660.5,598.2 700.3,615.5 720.0,622.0 C739.7,628.5 734.5,625.8 760.0,629.0 C785.5,632.2 854.2,639.0 873.0,641.0" stroke="#f0182c" stroke-width="2"/>
<path d="M113.0,185.0 C113.5,188.3 114.7,195.8 116.0,205.0 C117.3,214.2 119.0,227.5 121.0,240.0 C123.0,252.5 125.3,266.7 128.0,280.0 C130.7,293.3 133.3,308.3 137.0,320.0 C140.7,331.7 146.3,341.7 150.0,350.0 C153.7,358.3 154.8,361.7 159.0,370.0 C163.2,378.3 168.8,387.3 175.0,400.0 C181.2,412.7 189.0,434.3 196.0,446.0 C203.0,457.7 209.4,463.4 217.0,470.0 C224.6,476.6 232.7,479.8 241.5,485.7 C250.3,491.6 260.4,499.8 270.0,505.7 C279.6,511.6 292.3,517.6 299.0,521.0 C305.7,524.4 303.8,524.0 310.0,525.8 C316.2,527.6 326.0,530.0 336.0,532.0 C346.0,534.0 361.7,536.2 370.0,538.0 C378.3,539.8 376.0,546.0 386.0,543.0 C396.0,540.0 415.0,531.2 430.0,520.0 C445.0,508.8 466.2,483.7 476.0,476.0 C485.8,468.3 484.2,474.2 489.0,474.0 C493.8,473.8 498.2,472.8 505.0,475.0 C511.8,477.2 520.8,478.2 530.0,487.0 C539.2,495.8 546.8,516.2 560.0,528.0 C573.2,539.8 592.3,549.3 609.0,558.0 C625.7,566.7 641.5,572.8 660.0,580.0 C678.5,587.2 703.3,596.0 720.0,601.0 C736.7,606.0 734.5,605.3 760.0,610.0 C785.5,614.7 854.2,625.8 873.0,629.0" stroke="#1f8f40" stroke-width="2"/>
<path d="M113.0,241.0 C113.8,246.7 116.2,263.5 118.0,275.0 C119.8,286.5 121.5,298.3 124.0,310.0 C126.5,321.7 130.2,335.0 133.0,345.0 C135.8,355.0 136.4,359.2 140.6,370.0 C144.8,380.8 152.4,398.0 158.0,410.0 C163.6,422.0 169.5,432.3 174.0,442.0 C178.5,451.7 181.3,460.9 185.0,468.0 C188.7,475.1 189.4,477.1 196.0,484.3 C202.6,491.6 216.7,505.6 224.3,511.5 C231.9,517.5 236.2,517.4 241.5,520.0 C246.8,522.6 249.8,523.6 255.8,527.2 C261.8,530.8 268.3,537.5 277.3,541.5 C286.3,545.5 300.4,548.6 310.0,551.5 C319.6,554.4 324.7,557.8 335.0,559.0 C345.3,560.2 360.8,560.3 372.0,559.0 C383.2,557.7 390.2,555.8 402.0,551.0 C413.8,546.2 430.7,537.7 443.0,530.0 C455.3,522.3 468.3,510.7 476.0,505.0 C483.7,499.3 484.2,497.3 489.0,496.0 C493.8,494.7 498.2,494.3 505.0,497.0 C511.8,499.7 520.8,504.8 530.0,512.0 C539.2,519.2 549.5,533.3 560.0,540.0 C570.5,546.7 582.2,546.8 593.0,552.0 C603.8,557.2 614.2,565.3 625.0,571.0 C635.8,576.7 642.2,580.0 658.0,586.0 C673.8,592.0 703.0,602.0 720.0,607.0 C737.0,612.0 734.5,611.5 760.0,616.0 C785.5,620.5 854.2,631.0 873.0,634.0" stroke="#1010a0" stroke-width="2"/>
<path d="M113.0,31.0 C113.1,33.8 113.2,41.5 113.5,48.0 C113.8,54.5 114.1,63.0 114.5,70.0 C114.9,77.0 115.2,80.8 116.0,90.0 C116.8,99.2 117.2,113.3 119.0,125.0 C120.8,136.7 124.0,147.5 127.0,160.0 C130.0,172.5 133.8,188.3 137.0,200.0 C140.2,211.7 142.8,219.8 146.0,230.0 C149.2,240.2 152.0,249.3 156.0,261.0 C160.0,272.7 165.5,288.5 170.0,300.0 C174.5,311.5 180.0,323.3 183.0,330.0 C186.0,336.7 184.7,332.0 188.0,340.0 C191.3,348.0 198.3,368.0 203.0,378.0 C207.7,388.0 211.5,393.8 216.0,400.0 C220.5,406.2 225.7,410.0 230.0,415.0 C234.3,420.0 237.8,425.0 242.0,430.0 C246.2,435.0 250.3,440.0 255.0,445.0 C259.7,450.0 265.0,455.2 270.0,460.0 C275.0,464.8 280.2,469.2 285.0,474.0 C289.8,478.8 292.7,484.8 299.0,489.0 C305.3,493.2 315.8,496.5 323.0,499.0 C330.2,501.5 335.8,501.2 342.0,504.0 C348.2,506.8 355.3,513.2 360.0,516.0 C364.7,518.8 365.7,519.3 370.0,521.0 C374.3,522.7 379.3,526.5 386.0,526.0 C392.7,525.5 403.2,521.0 410.0,518.0 C416.8,515.0 420.3,512.3 427.0,508.0 C433.7,503.7 441.8,497.5 450.0,492.0 C458.2,486.5 469.5,478.0 476.0,475.0 C482.5,472.0 484.2,473.8 489.0,474.0 C493.8,474.2 498.2,473.5 505.0,476.0 C511.8,478.5 520.8,480.0 530.0,489.0 C539.2,498.0 549.5,519.8 560.0,530.0 C570.5,540.2 582.2,543.7 593.0,550.0 C603.8,556.3 614.2,562.5 625.0,568.0 C635.8,573.5 642.2,577.2 658.0,583.0 C673.8,588.8 703.0,598.2 720.0,603.0 C737.0,607.8 743.3,609.2 760.0,612.0 C776.7,614.8 801.2,617.5 820.0,620.0 C838.8,622.5 864.2,625.8 873.0,627.0" stroke="#101c8c" stroke-width="2"/>
<path d="M113.0,38.0 C113.1,41.7 113.3,53.0 113.5,60.0 C113.7,67.0 113.5,69.2 114.0,80.0 C114.5,90.8 115.0,111.7 116.8,125.0 C118.6,138.3 122.0,147.5 125.0,160.0 C128.0,172.5 131.8,188.3 135.0,200.0 C138.2,211.7 140.8,220.0 144.0,230.0 C147.2,240.0 150.0,248.3 154.0,260.0 C158.0,271.7 163.5,288.3 168.0,300.0 C172.5,311.7 178.0,323.3 181.0,330.0 C184.0,336.7 182.6,332.0 186.0,340.0 C189.4,348.0 196.8,368.0 201.5,378.0 C206.2,388.0 209.6,393.8 214.0,400.0 C218.4,406.2 223.7,410.0 228.0,415.0 C232.3,420.0 236.0,425.0 240.0,430.0 C244.0,435.0 247.7,440.0 252.0,445.0 C256.3,450.0 261.3,455.2 266.0,460.0 C270.7,464.8 274.5,469.5 280.0,474.0 C285.5,478.5 291.8,483.2 299.0,487.0 C306.2,490.8 315.8,494.7 323.0,497.0 C330.2,499.3 336.8,499.8 342.0,501.0 C347.2,502.2 349.3,503.8 354.0,504.0 C358.7,504.2 364.0,503.2 370.0,502.0 C376.0,500.8 382.7,499.5 390.0,497.0 C397.3,494.5 404.0,492.2 414.0,487.0 C424.0,481.8 439.8,471.8 450.0,466.0 C460.2,460.2 468.5,455.5 475.0,452.0 C481.5,448.5 484.0,445.8 489.0,445.0 C494.0,444.2 498.2,442.8 505.0,447.0 C511.8,451.2 520.8,460.3 530.0,470.0 C539.2,479.7 550.0,495.0 560.0,505.0 C570.0,515.0 581.8,523.3 590.0,530.0 C598.2,536.7 599.0,539.0 609.0,545.0 C619.0,551.0 636.5,559.7 650.0,566.0 C663.5,572.3 678.3,578.3 690.0,583.0 C701.7,587.7 708.3,590.8 720.0,594.0 C731.7,597.2 743.3,598.8 760.0,602.0 C776.7,605.2 801.2,609.3 820.0,613.0 C838.8,616.7 864.2,622.2 873.0,624.0" stroke="#7a1050" stroke-width="2"/>
<path d="M113.0,45.0 C113.3,47.5 114.3,54.2 115.0,60.0 C115.7,65.8 115.8,69.2 117.0,80.0 C118.2,90.8 119.8,111.7 122.0,125.0 C124.2,138.3 127.0,147.5 130.0,160.0 C133.0,172.5 136.7,188.3 140.0,200.0 C143.3,211.7 146.7,220.0 150.0,230.0 C153.3,240.0 155.8,248.3 160.0,260.0 C164.2,271.7 170.8,288.3 175.0,300.0 C179.2,311.7 182.8,323.3 185.3,330.0 C187.8,336.7 186.7,333.3 190.0,340.0 C193.3,346.7 199.8,360.8 205.0,370.0 C210.2,379.2 215.8,387.5 221.0,395.0 C226.2,402.5 231.3,409.2 236.0,415.0 C240.7,420.8 244.5,425.0 249.0,430.0 C253.5,435.0 258.3,440.0 263.0,445.0 C267.7,450.0 273.0,455.8 277.0,460.0 C281.0,464.2 281.3,465.7 287.0,470.0 C292.7,474.3 302.8,482.0 311.0,486.0 C319.2,490.0 329.8,492.2 336.0,494.0 C342.2,495.8 343.5,494.8 348.0,497.0 C352.5,499.2 357.3,504.7 363.0,507.0 C368.7,509.3 375.0,511.3 382.0,511.0 C389.0,510.7 397.5,507.5 405.0,505.0 C412.5,502.5 419.5,500.5 427.0,496.0 C434.5,491.5 441.8,484.8 450.0,478.0 C458.2,471.2 469.5,459.2 476.0,455.0 C482.5,450.8 484.2,452.6 489.0,452.6 C493.8,452.6 498.2,450.8 505.0,455.0 C511.8,459.2 520.8,467.0 530.0,478.0 C539.2,489.0 552.3,511.7 560.0,521.0 C567.7,530.3 567.8,528.7 576.0,534.0 C584.2,539.3 598.0,547.0 609.0,553.0 C620.0,559.0 628.3,563.7 642.0,570.0 C655.7,576.3 678.0,586.3 691.0,591.0 C704.0,595.7 708.5,595.5 720.0,598.0 C731.5,600.5 743.3,602.7 760.0,606.0 C776.7,609.3 801.2,614.2 820.0,618.0 C838.8,621.8 864.2,627.2 873.0,629.0" stroke="#3cff3c" stroke-width="2"/>
<path d="M113.0,40.0 C113.2,42.0 113.8,47.8 114.5,52.0 C115.2,56.2 116.1,59.5 117.0,65.0 C117.9,70.5 118.8,77.5 120.0,85.0 C121.2,92.5 122.8,103.3 124.0,110.0 C125.2,116.7 125.0,116.7 127.0,125.0 C129.0,133.3 132.8,147.5 136.0,160.0 C139.2,172.5 142.8,188.3 146.0,200.0 C149.2,211.7 151.7,220.0 155.0,230.0 C158.3,240.0 161.5,248.3 166.0,260.0 C170.5,271.7 177.5,288.3 182.0,300.0 C186.5,311.7 190.2,323.3 193.0,330.0 C195.8,336.7 195.2,333.3 199.0,340.0 C202.8,346.7 210.5,360.8 216.0,370.0 C221.5,379.2 227.5,388.5 232.0,395.0 C236.5,401.5 240.5,405.7 243.0,409.0 C245.5,412.3 243.5,410.3 247.0,415.0 C250.5,419.7 257.8,429.5 264.0,437.0 C270.2,444.5 278.0,453.7 284.0,460.0 C290.0,466.3 293.5,470.0 300.0,475.0 C306.5,480.0 316.0,486.2 323.0,490.0 C330.0,493.8 336.2,496.7 342.0,498.0 C347.8,499.3 353.3,499.5 358.0,498.0 C362.7,496.5 366.2,491.7 370.0,489.0 C373.8,486.3 373.7,484.0 381.0,482.0 C388.3,480.0 404.3,480.5 414.0,477.0 C423.7,473.5 429.7,467.2 439.0,461.0 C448.3,454.8 461.7,443.7 470.0,440.0 C478.3,436.3 483.7,438.8 489.0,439.0 C494.3,439.2 495.0,436.3 502.0,441.0 C509.0,445.7 520.0,457.5 531.0,467.0 C542.0,476.5 558.5,487.8 568.0,498.0 C577.5,508.2 581.8,520.8 588.0,528.0 C594.2,535.2 596.3,536.5 605.0,541.0 C613.7,545.5 625.8,549.2 640.0,555.0 C654.2,560.8 670.0,569.2 690.0,576.0 C710.0,582.8 738.3,590.3 760.0,596.0 C781.7,601.7 801.2,605.7 820.0,610.0 C838.8,614.3 864.2,620.0 873.0,622.0" stroke="#f01024" stroke-width="2"/>
<path d="M113.0,33.0 C113.2,35.5 113.3,43.5 114.0,48.0 C114.7,52.5 116.0,54.7 117.0,60.0 C118.0,65.3 118.7,71.7 120.0,80.0 C121.3,88.3 123.8,102.5 125.0,110.0 C126.2,117.5 125.6,116.7 127.3,125.0 C129.0,133.3 132.2,147.5 135.0,160.0 C137.8,172.5 141.0,188.3 144.0,200.0 C147.0,211.7 149.7,220.0 153.0,230.0 C156.3,240.0 159.5,248.3 164.0,260.0 C168.5,271.7 175.4,288.3 180.0,300.0 C184.6,311.7 188.7,323.3 191.5,330.0 C194.3,336.7 193.2,333.3 197.0,340.0 C200.8,346.7 208.5,360.8 214.0,370.0 C219.5,379.2 225.2,388.2 230.0,395.0 C234.8,401.8 239.9,407.3 242.6,411.0 C245.3,414.7 243.2,412.7 246.4,417.0 C249.6,421.3 256.1,429.8 262.0,437.0 C267.9,444.2 275.8,453.3 282.0,460.0 C288.2,466.7 292.2,472.2 299.0,477.0 C305.8,481.8 314.8,485.3 323.0,489.0 C331.2,492.7 341.8,497.3 348.0,499.0 C354.2,500.7 356.3,499.8 360.0,499.0 C363.7,498.2 366.7,495.8 370.0,494.0 C373.3,492.2 372.7,490.2 380.0,488.0 C387.3,485.8 404.0,485.0 414.0,481.0 C424.0,477.0 430.7,470.2 440.0,464.0 C449.3,457.8 461.8,447.9 470.0,444.0 C478.2,440.1 483.7,440.8 489.0,440.5 C494.3,440.2 495.2,437.6 502.0,442.0 C508.8,446.4 520.3,455.7 530.0,467.0 C539.7,478.3 549.5,499.2 560.0,510.0 C570.5,520.8 582.2,526.2 593.0,532.0 C603.8,537.8 614.2,540.7 625.0,545.0 C635.8,549.3 647.0,552.8 658.0,558.0 C669.0,563.2 680.7,571.8 691.0,576.0 C701.3,580.2 708.5,580.5 720.0,583.0 C731.5,585.5 743.3,587.7 760.0,591.0 C776.7,594.3 801.2,599.0 820.0,603.0 C838.8,607.0 864.2,613.0 873.0,615.0" stroke="#1414a8" stroke-width="2"/>
<path d="M113.0,249.0 C113.8,255.8 116.2,276.5 118.0,290.0 C119.8,303.5 121.2,316.7 124.0,330.0 C126.8,343.3 131.3,358.3 134.5,370.0 C137.7,381.7 139.9,390.8 143.0,400.0 C146.1,409.2 149.0,415.8 153.0,425.0 C157.0,434.2 162.2,444.5 167.0,455.0 C171.8,465.5 176.7,478.3 182.0,488.0 C187.3,497.7 191.1,504.8 198.6,513.0 C206.1,521.2 217.4,530.2 227.0,537.0 C236.6,543.8 246.5,549.0 256.0,554.0 C265.5,559.0 275.0,563.2 284.0,567.0 C293.0,570.8 300.7,573.8 310.0,577.0 C319.3,580.2 327.3,583.2 340.0,586.0 C352.7,588.8 373.7,594.0 386.0,594.0 C398.3,594.0 402.5,592.2 414.0,586.0 C425.5,579.8 443.3,565.7 455.0,557.0 C466.7,548.3 477.2,538.0 484.0,534.0 C490.8,530.0 491.7,532.8 496.0,533.0 C500.3,533.2 502.7,531.8 510.0,535.0 C517.3,538.2 531.7,546.2 540.0,552.0 C548.3,557.8 551.2,564.8 560.0,570.0 C568.8,575.2 582.2,577.3 593.0,583.0 C603.8,588.7 613.8,598.7 625.0,604.0 C636.2,609.3 644.2,610.0 660.0,615.0 C675.8,620.0 703.3,629.3 720.0,634.0 C736.7,638.7 734.5,639.8 760.0,643.0 C785.5,646.2 854.2,651.3 873.0,653.0" stroke="#138a34" stroke-width="2"/>
<path d="M113.0,268.0 C113.8,273.3 116.2,288.8 118.0,300.0 C119.8,311.2 121.9,323.3 124.0,335.0 C126.1,346.7 128.1,359.2 130.8,370.0 C133.5,380.8 136.8,390.8 140.0,400.0 C143.2,409.2 145.8,415.8 150.0,425.0 C154.2,434.2 160.0,444.5 165.0,455.0 C170.0,465.5 174.3,478.5 180.0,488.0 C185.7,497.5 191.2,504.2 199.0,512.0 C206.8,519.8 217.5,528.3 227.0,535.0 C236.5,541.7 246.5,547.2 256.0,552.0 C265.5,556.8 275.0,560.7 284.0,564.0 C293.0,567.3 297.2,569.2 310.0,572.0 C322.8,574.8 345.7,581.5 361.0,581.0 C376.3,580.5 388.3,574.7 402.0,569.0 C415.7,563.3 430.7,556.5 443.0,547.0 C455.3,537.5 468.3,518.2 476.0,512.0 C483.7,505.8 484.2,510.2 489.0,510.0 C493.8,509.8 498.2,508.5 505.0,511.0 C511.8,513.5 520.8,516.8 530.0,525.0 C539.2,533.2 549.5,550.0 560.0,560.0 C570.5,570.0 582.2,576.8 593.0,585.0 C603.8,593.2 603.8,600.7 625.0,609.0 C646.2,617.3 697.5,629.5 720.0,635.0 C742.5,640.5 734.5,639.5 760.0,642.0 C785.5,644.5 854.2,648.7 873.0,650.0" stroke="#ffff44" stroke-width="2"/>
<path d="M113.0,260.0 C113.8,266.3 116.2,285.3 118.0,298.0 C119.8,310.7 121.5,324.0 124.0,336.0 C126.5,348.0 130.0,359.3 133.0,370.0 C136.0,380.7 138.8,390.8 142.0,400.0 C145.2,409.2 148.0,415.8 152.0,425.0 C156.0,434.2 161.2,444.5 166.0,455.0 C170.8,465.5 175.7,478.8 181.0,488.0 C186.3,497.2 190.3,502.3 198.0,510.0 C205.7,517.7 217.3,527.2 227.0,534.0 C236.7,540.8 246.5,546.0 256.0,551.0 C265.5,556.0 275.0,560.3 284.0,564.0 C293.0,567.7 298.2,570.8 310.0,573.0 C321.8,575.2 339.7,579.0 355.0,577.0 C370.3,575.0 387.3,568.2 402.0,561.0 C416.7,553.8 429.3,543.8 443.0,534.0 C456.7,524.2 476.3,507.8 484.0,502.0 C491.7,496.2 485.5,499.3 489.0,499.0 C492.5,498.7 498.2,497.3 505.0,500.0 C511.8,502.7 519.5,505.3 530.0,515.0 C540.5,524.7 556.2,544.8 568.0,558.0 C579.8,571.2 585.7,583.7 601.0,594.0 C616.3,604.3 640.2,612.8 660.0,620.0 C679.8,627.2 703.3,632.0 720.0,637.0 C736.7,642.0 734.5,647.0 760.0,650.0 C785.5,653.0 854.2,654.2 873.0,655.0" stroke="#881034" stroke-width="2"/>
<path d="M113.0,255.0 C113.8,261.7 116.2,282.0 118.0,295.0 C119.8,308.0 121.7,320.5 124.0,333.0 C126.3,345.5 129.2,358.8 132.0,370.0 C134.8,381.2 137.8,390.8 141.0,400.0 C144.2,409.2 147.0,415.8 151.0,425.0 C155.0,434.2 160.2,444.8 165.0,455.0 C169.8,465.2 174.8,476.5 180.0,486.0 C185.2,495.5 191.5,504.7 196.0,512.0 C200.5,519.3 199.4,523.7 207.0,530.0 C214.6,536.3 231.0,544.5 241.5,550.0 C252.0,555.5 258.6,559.2 270.0,563.0 C281.4,566.8 295.8,570.7 310.0,573.0 C324.2,575.3 339.7,578.3 355.0,577.0 C370.3,575.7 387.3,571.2 402.0,565.0 C416.7,558.8 430.7,548.3 443.0,540.0 C455.3,531.7 468.3,520.0 476.0,515.0 C483.7,510.0 484.2,510.7 489.0,510.0 C493.8,509.3 498.2,508.5 505.0,511.0 C511.8,513.5 520.8,517.7 530.0,525.0 C539.2,532.3 552.3,547.3 560.0,555.0 C567.7,562.7 569.7,563.7 576.0,571.0 C582.3,578.3 589.8,591.5 598.0,599.0 C606.2,606.5 609.7,609.0 625.0,616.0 C640.3,623.0 667.5,634.5 690.0,641.0 C712.5,647.5 729.5,651.5 760.0,655.0 C790.5,658.5 854.2,660.8 873.0,662.0" stroke="#f0183c" stroke-width="2"/>
<path d="M113.0,377.0 C113.0,380.8 111.9,394.0 113.0,400.0 C114.1,406.0 117.2,409.5 119.8,412.9 C122.4,416.3 125.3,418.2 128.4,420.3 C131.5,422.4 135.3,423.8 138.2,425.2 C141.0,426.6 143.4,427.2 145.5,428.8 C147.6,430.4 148.7,432.1 150.5,435.0 C152.3,437.9 154.4,442.1 156.6,446.0 C158.8,449.9 161.4,454.2 163.9,458.3 C166.4,462.4 169.1,466.4 171.3,470.5 C173.6,474.6 175.2,478.1 177.4,482.8 C179.6,487.5 180.8,491.7 184.3,498.6 C187.8,505.5 193.8,516.7 198.6,524.3 C203.4,531.9 208.1,539.6 212.9,544.4 C217.7,549.2 222.4,550.4 227.2,553.0 C232.0,555.6 236.7,557.7 241.5,560.1 C246.3,562.5 251.0,565.1 255.8,567.2 C260.6,569.4 265.3,570.9 270.1,573.0 C274.9,575.1 277.8,577.7 284.4,580.1 C291.0,582.5 297.2,585.0 310.0,587.3 C322.8,589.6 345.7,592.7 361.0,594.0 C376.3,595.3 390.3,597.2 402.0,595.0 C413.7,592.8 420.8,586.7 431.0,581.0 C441.2,575.3 454.2,567.0 463.0,561.0 C471.8,555.0 477.8,548.8 484.0,545.0 C490.2,541.2 496.3,539.5 500.0,538.0 C503.7,536.5 501.0,536.5 506.0,536.0 C511.0,535.5 521.0,535.0 530.0,535.0 C539.0,535.0 549.0,535.8 560.0,536.0 C571.0,536.2 587.8,535.8 596.0,536.0 C604.2,536.2 602.7,535.5 609.0,537.0 C615.3,538.5 625.8,541.7 634.0,545.0 C642.2,548.3 649.8,552.5 658.0,557.0 C666.2,561.5 672.7,566.0 683.0,572.0 C693.3,578.0 710.0,587.8 720.0,593.0 C730.0,598.2 736.3,600.2 743.0,603.0 C749.7,605.8 752.3,606.7 760.0,610.0 C767.7,613.3 777.0,619.2 789.0,623.0 C801.0,626.8 818.0,630.2 832.0,633.0 C846.0,635.8 866.2,638.8 873.0,640.0" stroke="#ff0a0a" stroke-width="5"/>
</g>
<path d="M257.0,237.4 H324.0" stroke="#f01024" stroke-width="2.2"/>
<text transform="translate(339.4,246.0) scale(0.88,1)" textLength="151.4" lengthAdjust="spacing" font-size="28" font-family="Liberation Sans" fill="#383838" xml:space="preserve" filter="url(#tb)">(a) AuNPs</text>
<path d="M255.0,275.0 H324.0" stroke="#f0182c" stroke-width="2.2"/>
<text transform="translate(339.0,285.0) scale(0.88,1)" textLength="138.6" lengthAdjust="spacing" font-size="28" font-family="Liberation Sans" fill="#383838" xml:space="preserve" filter="url(#tb)">(b) Pb(II)</text>
<path d="M255.0,313.6 H324.0" stroke="#3cff3c" stroke-width="2.2"/>
<text transform="translate(340.0,324.0) scale(0.88,1)" textLength="135.0" lengthAdjust="spacing" font-size="28" font-family="Liberation Sans" fill="#383838" xml:space="preserve" filter="url(#tb)">(c) Tb(II)</text>
<path d="M255.0,353.4 H324.0" stroke="#101c8c" stroke-width="2.2"/>
<text transform="translate(340.0,363.0) scale(0.88,1)" textLength="137.5" lengthAdjust="spacing" font-size="28" font-family="Liberation Sans" fill="#383838" xml:space="preserve" filter="url(#tb)">(d) Zn(II)</text>
<path d="M250.6,389.8 H319.0" stroke="#ffff44" stroke-width="2.2"/>
<text transform="translate(342.0,400.0) scale(0.88,1)" textLength="138.2" lengthAdjust="spacing" font-size="28" font-family="Liberation Sans" fill="#383838" xml:space="preserve" filter="url(#tb)">(e)Fe(III)</text>
<path d="M481.0,233.0 H550.0" stroke="#f0183c" stroke-width="2.2"/>
<text transform="translate(566.0,244.0) scale(0.88,1)" textLength="129.0" lengthAdjust="spacing" font-size="28" font-family="Liberation Sans" fill="#383838" xml:space="preserve" filter="url(#tb)">(f) Cd(II)</text>
<path d="M483.5,271.0 H551.6" stroke="#8c8c1c" stroke-width="2.2"/>
<text transform="translate(562.0,283.0) scale(0.88,1)" textLength="121.6" lengthAdjust="spacing" font-size="28" font-family="Liberation Sans" fill="#383838" xml:space="preserve" filter="url(#tb)">(g) Y(II)</text>
<path d="M486.0,310.0 H555.0" stroke="#ff0a0a" stroke-width="5"/>
<text transform="translate(566.7,321.0) scale(0.88,1)" textLength="142.4" lengthAdjust="spacing" font-size="28" font-family="Liberation Sans" fill="#383838" xml:space="preserve" filter="url(#tb)">(h) As(III)</text>
<path d="M481.0,348.6 H550.0" stroke="#1414a8" stroke-width="2.2"/>
<text transform="translate(568.6,357.0) scale(0.88,1)" textLength="136.8" lengthAdjust="spacing" font-size="28" font-family="Liberation Sans" fill="#383838" xml:space="preserve" filter="url(#tb)">(i)  Cu(II)</text>
<path d="M481.0,386.0 H550.0" stroke="#7a1050" stroke-width="2.2"/>
<text transform="translate(569.0,395.0) scale(0.88,1)" textLength="141.6" lengthAdjust="spacing" font-size="28" font-family="Liberation Sans" fill="#383838" xml:space="preserve" filter="url(#tb)">(j)  La(III)</text>
<path d="M728.7,233.0 H796.7" stroke="#881034" stroke-width="2.2"/>
<text transform="translate(806.0,244.0) scale(0.88,1)" textLength="137.5" lengthAdjust="spacing" font-size="28" font-family="Liberation Sans" fill="#383838" xml:space="preserve" filter="url(#tb)">(k) Hg(II)</text>
<path d="M729.0,270.8 H797.0" stroke="#138a34" stroke-width="2.2"/>
<text transform="translate(806.0,282.0) scale(0.88,1)" textLength="146.4" lengthAdjust="spacing" font-size="28" font-family="Liberation Sans" fill="#383838" xml:space="preserve" filter="url(#tb)">(l)  Gd(III)</text>
<path d="M729.0,311.0 H797.0" stroke="#1f8f40" stroke-width="2.2"/>
<text transform="translate(803.0,320.0) scale(0.88,1)" textLength="135.2" lengthAdjust="spacing" font-size="28" font-family="Liberation Sans" fill="#383838" xml:space="preserve" filter="url(#tb)">(m) Na(I)</text>
<path d="M729.0,348.4 H797.0" stroke="#1010a0" stroke-width="2.2"/>
<text transform="translate(806.5,357.0) scale(0.88,1)" textLength="123.3" lengthAdjust="spacing" font-size="28" font-family="Liberation Sans" fill="#383838" xml:space="preserve" filter="url(#tb)">(n) Ni(II)</text>
<path d="M729.0,386.0 H797.0" stroke="#f08a24" stroke-width="2.2"/>
<text transform="translate(809.0,395.0) scale(0.88,1)" textLength="107.4" lengthAdjust="spacing" font-size="28" font-family="Liberation Sans" fill="#383838" xml:space="preserve" filter="url(#tb)">(o)  K(I)</text>
<path d="M729.0,421.6 H797.0" stroke="#e07a58" stroke-width="2.2"/>
<text transform="translate(809.0,432.0) scale(0.88,1)" textLength="126.1" lengthAdjust="spacing" font-size="28" font-family="Liberation Sans" fill="#383838" xml:space="preserve" filter="url(#tb)">(p) Ba(II)</text>
</svg>
</body></html>
